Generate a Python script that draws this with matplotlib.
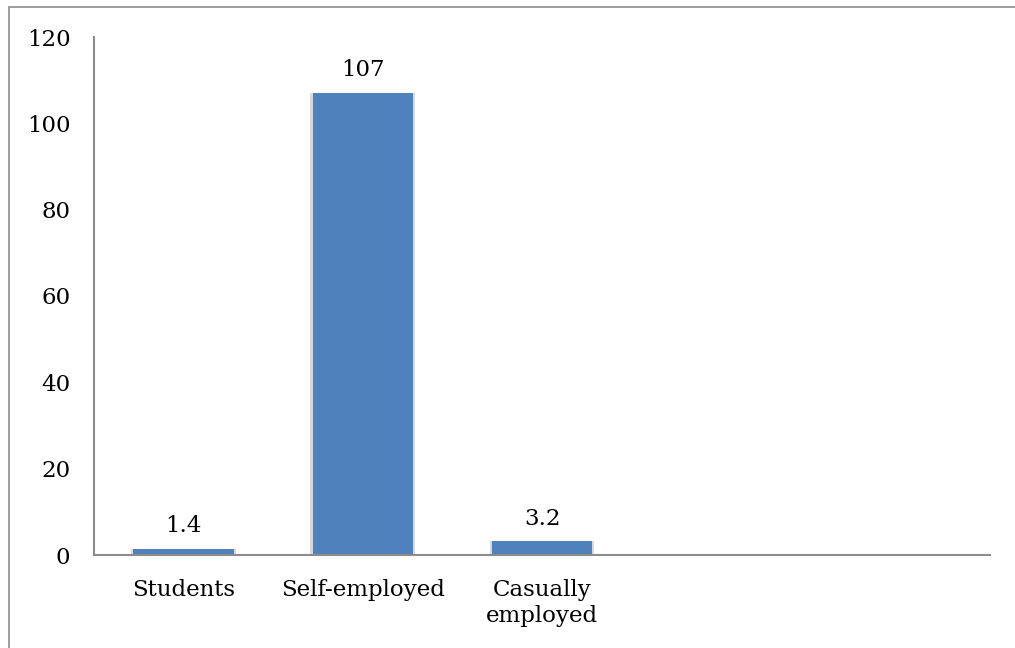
import matplotlib
matplotlib.use('Agg')
import matplotlib.pyplot as plt
from matplotlib.patches import Rectangle

# employment categories (two trailing slots are left empty in the chart)
categories = ['Students', 'Self-employed', 'Casually\nemployed', '', '']
values = [1.4, 107, 3.2, None, None]
yticks = [0, 20, 40, 60, 80, 100, 120]

plt.rcParams['font.family'] = ['DejaVu Serif']
FS = 16.5

W, H = 1015, 648
fig = plt.figure(figsize=(W / 100, H / 100), dpi=100)
ax = fig.add_axes([94 / W, 1 - 555 / H, (990 - 94) / W, (555 - 37) / H])

# thin grey frame around the chart area
fig.patches.append(Rectangle((9 / W, -0.1), 1.2, 1 - 7 / H + 0.1,
                             transform=fig.transFigure, fill=False,
                             edgecolor='#8c8c8c', linewidth=1.2))

xs = list(range(len(categories)))
shown = [(x, v) for x, v in zip(xs, values) if v is not None]
bx = [s[0] for s in shown]
bv = [s[1] for s in shown]

# soft shadow behind each bar
ax.bar(bx, bv, width=0.585, color='#d9d9d9', zorder=1)
ax.bar(bx, bv, width=0.56, color='#4f81bd', zorder=2)

for x, v in shown:
    ax.annotate(f'{v:g}', (x, v), xytext=(0, 12), textcoords='offset points',
                ha='center', va='baseline', fontsize=FS)

ax.set_xlim(-0.5, len(categories) - 0.5)
ax.set_ylim(0, 120)
ax.set_yticks(yticks)
ax.set_xticks(xs)
ax.set_xticklabels(categories, fontsize=FS, linespacing=1.25)
ax.tick_params(axis='y', labelsize=FS, length=0, pad=17)
ax.tick_params(axis='x', length=0, pad=17)

for side in ['top', 'right']:
    ax.spines[side].set_visible(False)
for side in ['left', 'bottom']:
    ax.spines[side].set_color('#8c8c8c')
    ax.spines[side].set_linewidth(1.5)

fig.savefig('out.png', dpi=100)
